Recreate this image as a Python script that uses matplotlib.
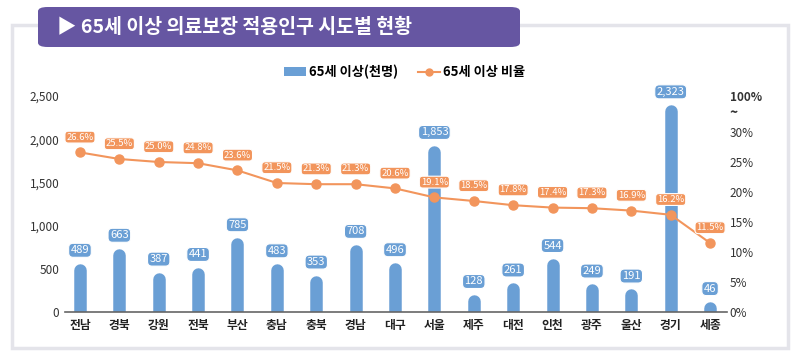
import numpy as np
import matplotlib
matplotlib.use("Agg")
import matplotlib.pyplot as plt
from matplotlib.patches import FancyBboxPatch, Rectangle, Patch
from matplotlib.lines import Line2D

plt.rcParams['font.family'] = ['Noto Sans CJK KR', 'DejaVu Sans']

# data
regions = ['전남', '경북', '강원', '전북', '부산', '충남', '충북', '경남', '대구',
           '서울', '제주', '대전', '인천', '광주', '울산', '경기', '세종']
pop = [489, 663, 387, 441, 785, 483, 353, 708, 496,
       1853, 128, 261, 544, 249, 191, 2323, 46]
ratio = [26.6, 25.5, 25.0, 24.8, 23.6, 21.5, 21.3, 21.3, 20.6,
         19.1, 18.5, 17.8, 17.4, 17.3, 16.9, 16.2, 11.5]
left_ticks = [0, 500, 1000, 1500, 2000, 2500]
right_ticks = [0, 5, 10, 15, 20, 25, 30]

blue = '#6a9fd5'
orange = '#f2955c'

fig = plt.figure(figsize=(8, 3.56), dpi=100)

# outer frame + title banner
fig.patches.append(Rectangle((12 / 800, 8 / 356), 776 / 800, 323 / 356,
                             transform=fig.transFigure, fill=False,
                             edgecolor='#e4e4ea', linewidth=2.5, zorder=0))
fig.patches.append(FancyBboxPatch((38 / 800, 309 / 356), 482 / 800, 40 / 356,
                                  boxstyle='round,pad=0,rounding_size=0.012',
                                  transform=fig.transFigure, facecolor='#6656a2',
                                  edgecolor='none', zorder=1))
fig.text(57 / 800, 329 / 356, '▶ 65세 이상 의료보장 적용인구 시도별 현황',
         color='white', fontsize=14, fontweight='bold', va='center', ha='left',
         family=['Noto Sans CJK KR', 'DejaVu Sans'])

ax = fig.add_axes([65 / 800, 44 / 356, 662 / 800, 216 / 356])
x = np.arange(len(regions))

ax.vlines(x, 0, pop, colors=blue, linewidth=9, capstyle='round', zorder=2)
ax.set_xlim(-0.38, 16.43)
ax.set_ylim(0, 2500)
ax.set_yticks(left_ticks)
ax.set_yticklabels([f'{v:,}' for v in left_ticks], fontsize=8.5, color='#333333')
ax.set_xticks(x)
ax.set_xticklabels(regions, fontsize=8.5, fontweight='bold', color='#222222')
ax.tick_params(axis='y', length=0, pad=4)
ax.tick_params(axis='x', length=0, pad=5)
for s in ['top', 'left', 'right']:
    ax.spines[s].set_visible(False)
ax.spines['bottom'].set_color('#666666')
ax.spines['bottom'].set_linewidth(1.2)
ax.spines['bottom'].set_zorder(3)

for xi, v in zip(x, pop):
    ax.annotate(f'{v:,}', (xi, v), xytext=(0, 14), textcoords='offset points',
                ha='center', va='center', fontsize=8, color='white',
                bbox=dict(boxstyle='round,pad=0.18,rounding_size=0.4',
                          facecolor=blue, edgecolor='white', linewidth=0.8),
                zorder=5, annotation_clip=False)

ax2 = ax.twinx()
ax2.plot(x, ratio, color=orange, linewidth=1.5, marker='o', markersize=6.5, zorder=4)
ax2.set_ylim(0, 36)
ax2.set_yticks(right_ticks + [33.4, 36])
ax2.set_yticklabels([f'{v}%' for v in right_ticks] + ['~', '100%'],
                    fontsize=8.5, color='#333333')
ax2.get_yticklabels()[-1].set_fontweight('bold')
ax2.get_yticklabels()[-2].set_fontweight('bold')
ax2.get_yticklabels()[-2].set_fontsize(10)
ax2.tick_params(axis='y', length=0, pad=2)
for s in ['top', 'left', 'right', 'bottom']:
    ax2.spines[s].set_visible(False)

for xi, r in zip(x, ratio):
    ax2.annotate(f'{r:.1f}%', (xi, r), xytext=(0, 11), textcoords='offset points',
                 ha='center', va='center', fontsize=6.8, color='white',
                 bbox=dict(boxstyle='round,pad=0.15,rounding_size=0.35',
                           facecolor=orange, edgecolor='white', linewidth=0.8),
                 zorder=6, annotation_clip=False)

handles = [Patch(facecolor=blue, edgecolor='none'),
           Line2D([0], [0], color=orange, marker='o', markersize=5, linewidth=1.5)]
fig.legend(handles, ['65세 이상(천명)', '65세 이상 비율'], loc='center',
           bbox_to_anchor=(405 / 800, 284 / 356), ncol=2, frameon=False,
           prop={'size': 9.5, 'weight': 'bold'}, handlelength=1.6,
           handletextpad=0.3, columnspacing=1.5)

fig.savefig('out.png', dpi=100)
